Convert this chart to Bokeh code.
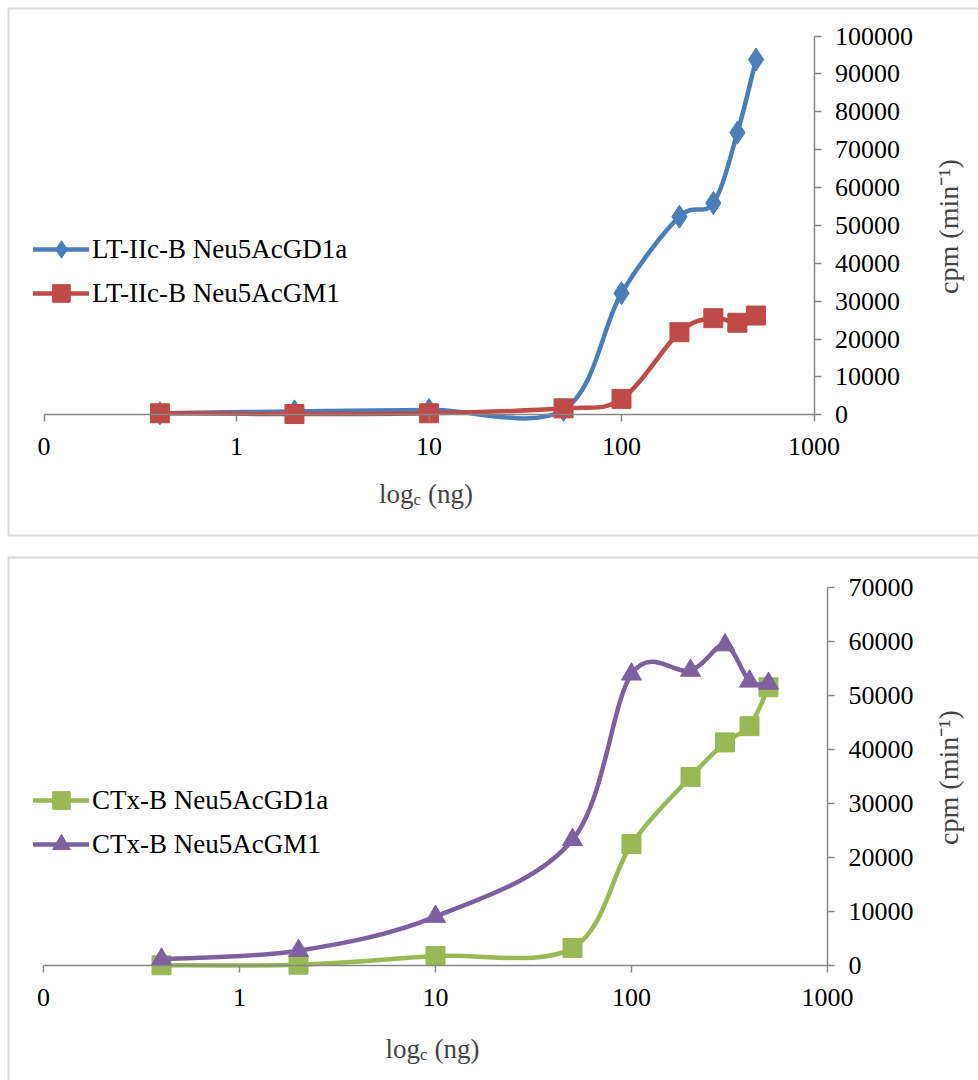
import numpy as np
from bokeh.plotting import figure
from bokeh.layouts import column
from bokeh.models import (Range1d, FixedTicker, NumeralTickFormatter, Legend,
                          LegendItem, Label, BoxAnnotation)
from bokeh.embed import file_html
from bokeh.resources import INLINE

# ---- data -------------------------------------------------------------
conc_ng = [0.4, 2, 10, 50, 100, 200, 300, 400, 500]

lt_gd1a = [400, 900, 1300, 1300, 32100, 52300, 55900, 74500, 93800]
lt_gm1 = [400, 200, 400, 1700, 4200, 21800, 25500, 24300, 26200]

ctx_gd1a = [100, 200, 1800, 3300, 22500, 34900, 41300, 44300, 51500]
ctx_gm1 = [1200, 2800, 9100, 23300, 53900, 54600, 59300, 52600, 52200]

x_ticks = [0.1, 1, 10, 100, 1000]
x_tick_labels = ["0", "1", "10", "100", "1000"]
y_ticks_top = [0, 10000, 20000, 30000, 40000, 50000, 60000, 70000, 80000, 90000, 100000]
y_ticks_bottom = [0, 10000, 20000, 30000, 40000, 50000, 60000, 70000]

series_top = [("LT-IIc-B Neu5AcGD1a", lt_gd1a, "#4A7EBB", "diamond"),
              ("LT-IIc-B Neu5AcGM1", lt_gm1, "#BE4B48", "square")]
series_bottom = [("CTx-B Neu5AcGD1a", ctx_gd1a, "#98B954", "square"),
                 ("CTx-B Neu5AcGM1", ctx_gm1, "#7D60A0", "triangle")]

FONT = "Liberation Serif"
AXIS_GRAY = "#868686"
WIDTH = 978


def smooth_segments(xs, ys):
    """Catmull-Rom style cubic Bezier pieces, built in log-x / linear-y space."""
    lx = np.log10(np.asarray(xs, dtype=float))
    y = np.asarray(ys, dtype=float)
    n = len(lx)
    out = {k: [] for k in ("x0", "y0", "x1", "y1", "cx0", "cy0", "cx1", "cy1")}
    for i in range(n - 1):
        a = max(i - 1, 0)
        b = min(i + 2, n - 1)
        c0x = lx[i] + (lx[i + 1] - lx[a]) / 6.0
        c0y = y[i] + (y[i + 1] - y[a]) / 6.0
        c1x = lx[i + 1] - (lx[b] - lx[i]) / 6.0
        c1y = y[i + 1] - (y[b] - y[i]) / 6.0
        out["x0"].append(10 ** lx[i]); out["y0"].append(y[i])
        out["x1"].append(10 ** lx[i + 1]); out["y1"].append(y[i + 1])
        out["cx0"].append(10 ** c0x); out["cy0"].append(c0y)
        out["cx1"].append(10 ** c1x); out["cy1"].append(c1y)
    return out


def make_panel(series, y_max, y_ticks, fig_h, px_left, px_right, px_top,
               px_zero, border_top, border_bottom, legend_top, xlabel_base,
               ylabel_cy):
    # the plotting frame covers the whole canvas; the axes are pinned inside it
    decade = (px_right - px_left) / 4.0
    lx0 = -1 - px_left / decade
    lx1 = -1 + (WIDTH - px_left) / decade
    per_px = y_max / (px_zero - px_top)
    y0 = -(fig_h - px_zero) * per_px
    y1 = y_max + px_top * per_px

    p = figure(width=WIDTH, height=fig_h, x_axis_type="log",
               x_range=Range1d(10 ** lx0, 10 ** lx1), y_range=Range1d(y0, y1),
               y_axis_location="right", output_backend="svg",
               toolbar_location=None, min_border=0)
    p.outline_line_color = None
    p.grid.grid_line_color = None
    p.background_fill_color = "white"
    p.border_fill_color = "white"

    xa = p.xaxis[0]
    xa.fixed_location = 0
    xa.bounds = (0.1, 1000)
    xa.ticker = FixedTicker(ticks=x_ticks, minor_ticks=[])
    xa.formatter = NumeralTickFormatter(format="0")
    xa.major_label_overrides = {float(t): s for t, s in zip(x_ticks, x_tick_labels)}
    xa.axis_line_color = AXIS_GRAY
    xa.axis_line_width = 1.5
    xa.major_tick_line_color = AXIS_GRAY
    xa.major_tick_line_width = 1.5
    xa.major_tick_in = 0
    xa.major_tick_out = 7
    xa.minor_tick_line_color = None
    xa.major_label_standoff = 16
    xa.major_label_text_font = FONT
    xa.major_label_text_font_size = "26px"
    xa.major_label_text_color = "black"

    ya = p.yaxis[0]
    ya.fixed_location = 1000
    ya.bounds = (0, y_max)
    ya.ticker = FixedTicker(ticks=y_ticks, minor_ticks=[])
    ya.formatter = NumeralTickFormatter(format="0")
    ya.axis_line_color = AXIS_GRAY
    ya.axis_line_width = 1.5
    ya.major_tick_line_color = AXIS_GRAY
    ya.major_tick_line_width = 1.5
    ya.major_tick_in = 0
    ya.major_tick_out = 7
    ya.minor_tick_line_color = None
    ya.major_label_standoff = 14
    ya.major_label_text_font = FONT
    ya.major_label_text_font_size = "26px"
    ya.major_label_text_color = "black"

    # chart-area frame
    p.add_layout(BoxAnnotation(left=8, right=WIDTH + 50, top=border_top,
                               bottom=border_bottom,
                               left_units="canvas", right_units="canvas",
                               top_units="canvas", bottom_units="canvas",
                               fill_color=None, fill_alpha=0,
                               line_color="#808080", line_width=2,
                               level="underlay"))

    items = []
    for name, vals, color, marker in series:
        seg = smooth_segments(conc_ng, vals)
        lr = p.bezier(x0="x0", y0="y0", x1="x1", y1="y1", cx0="cx0", cy0="cy0",
                      cx1="cx1", cy1="cy1", source=seg, line_color=color,
                      line_width=4.5, line_cap="round")
        size = {"diamond": 23, "triangle": 20, "square": 19}[marker]
        mr = p.scatter(conc_ng, vals, marker=marker, size=size,
                       fill_color=color, line_color=color)
        items.append(LegendItem(label=name, renderers=[lr, mr]))

    item_h = 44
    legend_bottom = legend_top + 2 * item_h
    legend = Legend(items=items, location=(33, fig_h - legend_bottom),
                    glyph_width=56, glyph_height=item_h, label_height=item_h,
                    spacing=0, padding=0, margin=0, label_standoff=3,
                    border_line_color=None, background_fill_alpha=0,
                    label_text_font=FONT, label_text_font_size="27px",
                    label_text_color="black")
    p.add_layout(legend)

    # x axis title: log with subscript c, then (ng)
    f = 27
    total = (1.278 + 0.289 + 0.25 + 1.666) * f
    xlabel_cx = (px_left + px_right) / 2.0 - 3
    x0 = xlabel_cx - total / 2
    p.add_layout(Label(x=x0, y=xlabel_base, x_units="canvas", y_units="canvas",
                       text="log", text_font=FONT, text_font_size=f"{f}px",
                       text_baseline="alphabetic", text_align="left"))
    p.add_layout(Label(x=x0 + 1.278 * f, y=xlabel_base + 6, x_units="canvas",
                       y_units="canvas", text="c", text_font=FONT,
                       text_font_size="17px", text_baseline="alphabetic",
                       text_align="left"))
    p.add_layout(Label(x=x0 + (1.278 + 0.289 + 0.25) * f, y=xlabel_base,
                       x_units="canvas", y_units="canvas", text="(ng)",
                       text_font=FONT, text_font_size=f"{f}px",
                       text_baseline="alphabetic", text_align="left"))

    # y axis title, reading upward
    p.add_layout(Label(x=948, y=ylabel_cy, x_units="canvas", y_units="canvas",
                       text="cpm (min\u207b\u00b9)", angle=np.pi / 2,
                       text_font=FONT, text_font_size="28px",
                       text_align="center", text_baseline="middle"))
    return p


p1 = make_panel(series_top, 100000, y_ticks_top, fig_h=545, px_left=43.5,
                px_right=813.5, px_top=35.5, px_zero=414.3, border_top=8,
                border_bottom=535, legend_top=227, xlabel_base=493,
                ylabel_cy=226)
p2 = make_panel(series_bottom, 70000, y_ticks_bottom, fig_h=535, px_left=43,
                px_right=827, px_top=41.7, px_zero=420.3, border_top=12,
                border_bottom=600, legend_top=233, xlabel_base=503,
                ylabel_cy=232)

layout = column(p1, p2, spacing=0)
open("out.html", "w").write(file_html(layout, INLINE))
